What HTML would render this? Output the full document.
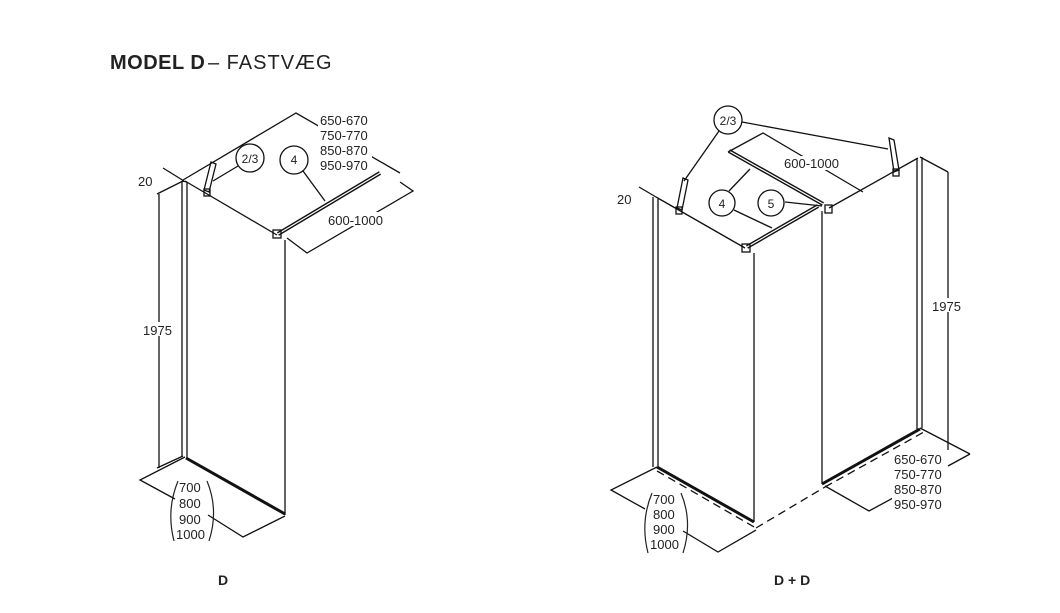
<!DOCTYPE html>
<html><head><meta charset="utf-8"><style>
html,body{margin:0;padding:0;background:#fff}
svg{display:block}
text{font-family:"Liberation Sans",Arial,sans-serif;fill:#222}
</style></head><body>
<svg width="1060" height="613" viewBox="0 0 1060 613" xmlns="http://www.w3.org/2000/svg">
<text x="110" y="69" font-size="20" font-weight="bold" letter-spacing="0.5">MODEL D</text>
<text x="208" y="69" font-size="20" letter-spacing="1">– FASTVÆG</text>

<g stroke="#111" fill="none" stroke-width="1.3">
<!-- LEFT DIAGRAM -->
<line x1="182" y1="181" x2="182" y2="457"/>
<line x1="187" y1="182" x2="187" y2="459"/>
<line x1="182" y1="181" x2="187" y2="182"/>
<line x1="185" y1="181" x2="277" y2="235"/>
<line x1="285" y1="240" x2="285" y2="515"/>
<line x1="186" y1="458" x2="285" y2="514" stroke-width="3"/>
<!-- 1975 dim -->
<line x1="159" y1="194" x2="159" y2="468"/>
<line x1="157" y1="194" x2="183" y2="181"/>
<line x1="157" y1="468" x2="183" y2="456"/>
<!-- bottom dims -->
<polyline points="185,457 140,480 175,499"/>
<polyline points="208,515 243,537 285,516"/>
<!-- top dims -->
<line x1="163" y1="168" x2="184" y2="181"/>
<polyline points="183,180 296,113 400,173"/>
<polyline points="287,238 307,253 413,191 400,182"/>
<!-- rod 4 -->
<line x1="278" y1="234" x2="380" y2="173" stroke-width="4"/>
<line x1="278" y1="234" x2="380" y2="173" stroke="#fff" stroke-width="1.2"/>
<rect x="273" y="230" width="8" height="8"/>
<!-- bracket 2/3 -->
<polygon points="211,162 216,164 209,192 204,190"/>
<rect x="204" y="189" width="6" height="7"/>
<line x1="238" y1="166" x2="213" y2="181"/>
<line x1="303" y1="171" x2="325" y2="201"/>

<!-- RIGHT DIAGRAM: left panel -->
<line x1="653" y1="197" x2="653" y2="467"/>
<line x1="658" y1="199" x2="658" y2="469"/>
<line x1="656" y1="197" x2="745" y2="248"/>
<line x1="754" y1="253" x2="754" y2="522"/>
<line x1="657" y1="467" x2="754" y2="522" stroke-width="3"/>
<!-- right panel -->
<line x1="822" y1="211" x2="822" y2="484"/>
<line x1="829" y1="208" x2="918" y2="158"/>
<line x1="917" y1="158" x2="917" y2="430"/>
<line x1="922" y1="157" x2="922" y2="428"/>
<line x1="920" y1="157" x2="948" y2="172"/>
<line x1="948" y1="172" x2="948" y2="450"/>
<line x1="822" y1="484" x2="920" y2="429" stroke-width="3"/>
<!-- dashed -->
<g stroke-dasharray="8,5">
<line x1="657" y1="471" x2="756" y2="528"/>
<line x1="756" y1="528" x2="825" y2="487"/>
<line x1="825" y1="487" x2="924" y2="432"/>
</g>
<!-- bottom dims -->
<polyline points="657,467 611,490 645,509"/>
<polyline points="683,531 718,552 756,530"/>
<line x1="920" y1="428" x2="970" y2="454"/>
<polyline points="825,486 869,511 893,498"/>
<line x1="948" y1="466" x2="970" y2="454"/>
<!-- 20 -->
<line x1="639" y1="187" x2="656" y2="197"/>
<!-- rods -->
<line x1="729" y1="151" x2="823" y2="204" stroke-width="4"/>
<line x1="729" y1="151" x2="823" y2="204" stroke="#fff" stroke-width="1.2"/>
<line x1="747" y1="247" x2="818" y2="206" stroke-width="4"/>
<line x1="747" y1="247" x2="818" y2="206" stroke="#fff" stroke-width="1.2"/>
<rect x="742" y="244" width="8" height="8"/>
<rect x="825" y="205" width="7" height="8"/>
<!-- 600-1000 -->
<polyline points="728,152 763,133 863,192"/>
<!-- brackets -->
<polygon points="683,178 688,180 682,210 677,208"/>
<rect x="676" y="207" width="6" height="7"/>
<polygon points="889,138 894,140 899,170 894,172"/>
<rect x="893" y="169" width="6" height="7"/>
<line x1="719" y1="131" x2="684" y2="181"/>
<line x1="742" y1="122" x2="888" y2="149"/>
<line x1="729" y1="191" x2="750" y2="169"/>
<line x1="734" y1="210" x2="772" y2="228"/>
<line x1="785" y1="202" x2="822" y2="206"/>
</g>

<!-- white label backgrounds -->
<g fill="#fff">
<rect x="318" y="114" width="54" height="60"/>
<rect x="326" y="212" width="62" height="14"/>
<rect x="143" y="322" width="32" height="14"/>
<rect x="782" y="156" width="60" height="14"/>
<rect x="931" y="298" width="32" height="14"/>
<rect x="892" y="453" width="54" height="58"/>
</g>
<g stroke="#111" fill="#fff" stroke-width="1.3">
<circle cx="250" cy="158" r="14"/>
<circle cx="294" cy="160" r="14"/>
<circle cx="728" cy="120" r="14"/>
<circle cx="722" cy="203" r="13"/>
<circle cx="771" cy="203" r="13"/>
</g>

<g font-size="13">
<text x="320" y="125">650-670</text>
<text x="320" y="140">750-770</text>
<text x="320" y="155">850-870</text>
<text x="320" y="170">950-970</text>
<text x="328" y="225">600-1000</text>
<text x="138" y="186">20</text>
<text x="143" y="335">1975</text>
<text x="250" y="163" text-anchor="middle" font-size="12">2/3</text>
<text x="294" y="164" text-anchor="middle" font-size="12">4</text>
<text x="179" y="492">700</text>
<text x="179" y="508">800</text>
<text x="179" y="524">900</text>
<text x="176" y="539">1000</text>
<text x="218" y="585" font-weight="bold" font-size="14">D</text>

<text x="728" y="125" text-anchor="middle" font-size="12">2/3</text>
<text x="722" y="208" text-anchor="middle" font-size="12">4</text>
<text x="771" y="208" text-anchor="middle" font-size="12">5</text>
<text x="784" y="168">600-1000</text>
<text x="617" y="204">20</text>
<text x="932" y="311">1975</text>
<text x="894" y="464">650-670</text>
<text x="894" y="479">750-770</text>
<text x="894" y="494">850-870</text>
<text x="894" y="509">950-970</text>
<text x="653" y="504">700</text>
<text x="653" y="519">800</text>
<text x="653" y="534">900</text>
<text x="650" y="549">1000</text>
<text x="774" y="585" font-weight="bold" font-size="14">D + D</text>
</g>
<g stroke="#222" fill="none" stroke-width="1.2">
<path d="M178,481 Q166,510 174,541"/>
<path d="M207,481 Q219,510 209,541"/>
<path d="M652,493 Q640,522 648,553"/>
<path d="M681,493 Q693,522 683,553"/>
</g>
</svg>
</body></html>
